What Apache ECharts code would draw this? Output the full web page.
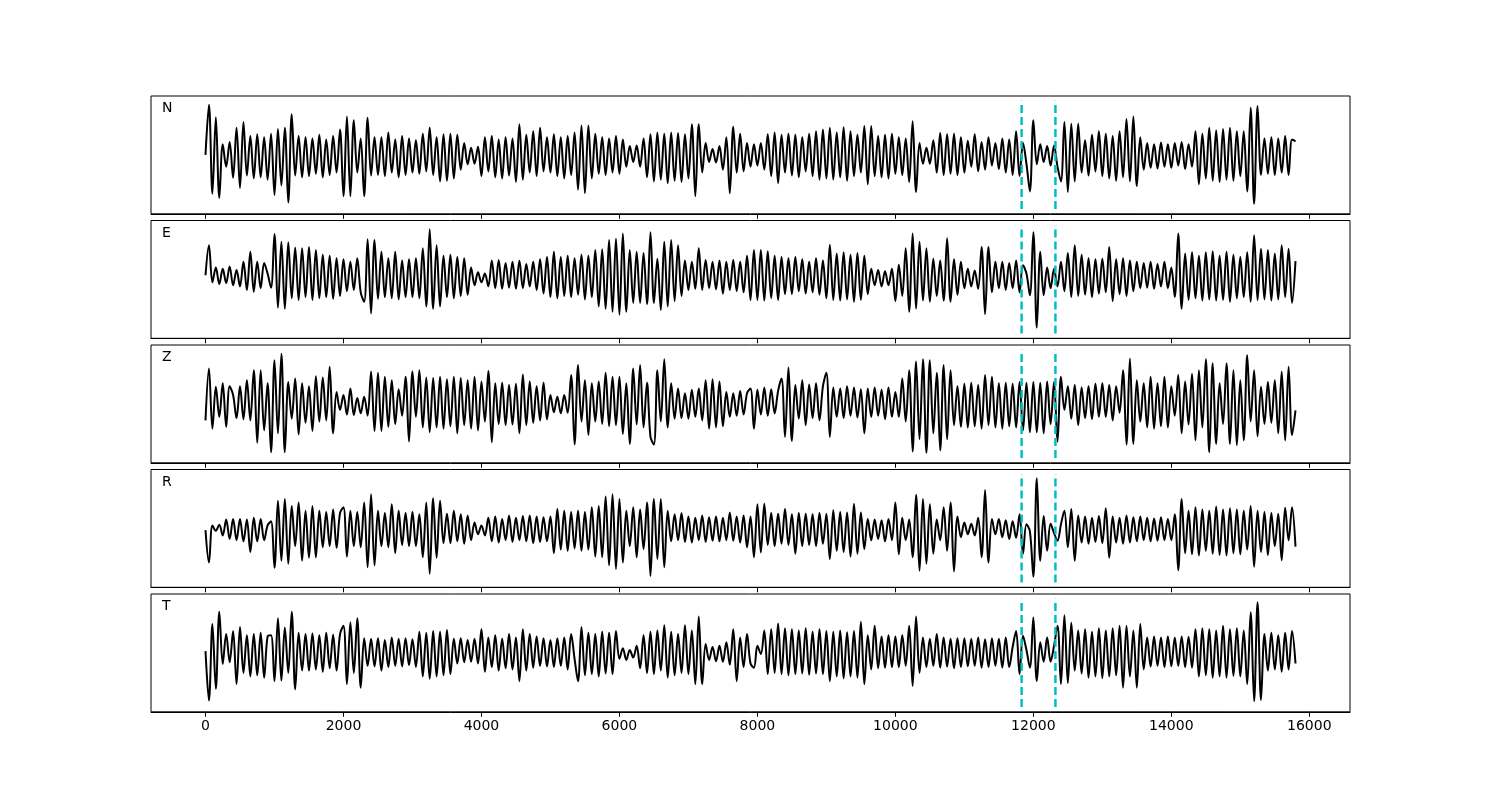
<!DOCTYPE html>
<html>
<head>
<meta charset="utf-8">
<script src="https://cdn.jsdelivr.net/npm/echarts@6/dist/echarts.min.js"></script>
<style>html,body{margin:0;padding:0;background:#fff}#chart{width:1500px;height:800px}</style>
</head>
<body>
<div id="chart"></div>
<script>
// channel names (top to bottom)
const channels = ['N', 'E', 'Z', 'R', 'T'];
// sample spacing of the values below (samples)
const sampleStep = 50;
// x axis tick labels
const xTicks = [0, 2000, 4000, 6000, 8000, 10000, 12000, 14000, 16000];
// dashed marker positions (samples)
const markerX = [11830, 12320];
const markerHalfSpan = 9.2;

// waveform values, one every 50 samples
const valuesN = [
0, 8.5, -6.6, 6.4, -7.3, 1.8, -2.0, 2.2, -3.9, 4.6,
-5.6, 5.6, -3.5, 3.2, -4.0, 3.5, -3.8, 3.0, -4.2, 3.6,
-6.8, 4.4, -5.2, 4.6, -8.1, 6.9, -3.5, 3.2, -3.8, 3.0,
-3.6, 2.8, -3.2, 3.4, -3.8, 2.6, -3.4, 3.2, -3.0, 4.3,
-7.0, 6.5, -7.0, 5.9, -3.0, 2.8, -7.0, 6.3, -3.5, 3.0,
-3.4, 3.0, -3.6, 3.8, -3.0, 2.6, -3.8, 3.2, -3.4, 2.8,
-3.0, 2.5, -3.2, 3.6, -2.8, 4.6, -3.4, 3.0, -4.5, 3.5,
-4.4, 3.6, -4.0, 3.4, -2.5, 2.0, -1.6, 1.2, -1.5, 1.4,
-3.6, 3.0, -2.8, 3.2, -3.8, 2.6, -4.0, 3.0, -3.5, 2.8,
-4.6, 5.2, -4.2, 3.4, -3.0, 4.0, -3.6, 4.6, -2.8, 3.0,
-3.0, 3.5, -3.6, 3.0, -4.0, 3.2, -3.4, 3.8, -5.9, 5.0,
-6.5, 5.0, -4.0, 3.6, -3.2, 3.0, -3.4, 2.8, -3.0, 3.2,
-3.2, 2.6, -2.0, 1.5, -1.2, 1.6, -2.0, 2.8, -3.8, 3.5,
-4.5, 3.8, -4.2, 3.6, -4.8, 3.8, -4.4, 3.7, -4.6, 3.5,
-4.0, 5.2, -7.0, 5.2, -3.0, 2.0, -1.2, 1.0, -1.3, 1.5,
-2.5, 3.0, -6.5, 4.8, -3.0, 3.6, -2.8, 2.0, -2.0, 1.8,
-1.8, 2.0, -2.5, 3.5, -3.6, 3.8, -4.8, 3.4, -3.0, 3.6,
-3.5, 3.4, -3.8, 3.0, -2.8, 3.6, -3.6, 4.0, -4.2, 4.3,
-4.0, 4.6, -4.2, 3.8, -3.8, 4.7, -4.4, 4.0, -3.6, 3.4,
-3.0, 4.9, -5.0, 4.9, -3.6, 3.2, -3.8, 3.4, -4.0, 3.6,
-3.2, 3.0, -3.4, 2.8, -4.6, 5.7, -6.3, 2.0, -1.5, 1.2,
-1.5, 2.5, -3.0, 3.7, -3.4, 3.5, -3.2, 3.6, -3.4, 3.0,
-3.0, 2.4, -2.0, 3.5, -2.8, 2.2, -2.5, 3.0, -1.8, 2.0,
-2.4, 2.8, -3.0, 2.6, -3.4, 4.0, -3.6, 2.0, -1.5, -6.2,
5.9, -1.6, 1.8, -1.2, 1.5, -1.8, 1.6, -2.0, -4.5, 5.6,
-6.3, 5.3, -4.5, 5.3, -3.0, 2.5, -3.5, 3.4, -2.8, 4.0,
-3.6, 3.6, -4.0, 3.2, -4.4, 4.0, -3.8, 6.1, -4.5, 6.5,
-5.3, 3.0, -2.5, 2.0, -2.2, 1.8, -2.3, 2.1, -2.0, 1.8,
-2.2, 2.0, -1.8, 2.2, -2.4, 1.8, -2.0, 4.0, -5.0, 3.6,
-4.0, 4.6, -4.4, 4.2, -4.6, 4.4, -4.2, 4.6, -4.4, 4.0,
-3.6, 4.0, -6.2, 8.0, -8.3, 8.3, -3.4, 2.8, -3.2, 3.0,
-3.4, 2.8, -3.0, 3.2, -3.4, 2.6, 2.3
];

const valuesE = [
0.7, 5.8, -0.5, 2.0, -0.8, 1.8, -0.6, 2.2, -1.0, 1.6,
-1.2, 3.0, -1.8, 4.7, -2.1, 3.0, -1.5, 2.8, 1.0, -1.4,
7.7, -4.8, 6.4, -5.0, 6.3, -3.2, 5.4, -3.5, 5.3, -3.0,
5.5, -3.5, 5.0, -3.2, 4.2, -3.0, 4.0, -3.3, 3.6, -2.8,
3.4, -2.0, 3.0, -1.8, 3.6, -2.2, -3.8, 6.8, -5.8, 6.7,
-3.3, 4.7, -3.0, 3.6, -3.2, 4.7, -3.4, 3.2, -3.0, 3.4,
-3.0, 3.6, -3.2, 5.3, -4.6, 8.5, -5.0, 5.8, -4.6, 4.0,
-3.0, 4.2, -3.2, 3.8, -2.8, 3.6, -2.6, 2.0, -1.0, 1.2,
-0.5, 1.0, -1.2, 3.2, -1.5, 3.3, -1.6, 2.8, -1.4, 3.0,
-1.6, 3.2, -1.5, 2.6, -1.2, 3.0, -1.8, 3.4, -2.4, 3.8,
-3.0, 4.7, -3.2, 3.8, -2.8, 4.0, -3.0, 3.6, -2.6, 4.2,
-3.4, 4.0, -3.0, 5.0, -4.6, 5.1, -5.0, 6.7, -5.5, 6.9,
-6.0, 7.8, -5.5, 5.0, -4.0, 4.7, -4.0, 4.5, -4.2, 8.0,
-4.0, 3.5, -5.2, 6.4, -4.6, 6.7, -3.7, 5.8, -2.8, 3.2,
-1.8, 3.0, -1.6, 5.3, -1.8, 3.3, -1.5, 3.0, -1.7, 3.2,
-2.4, 3.0, -1.8, 3.3, -2.0, 3.0, -2.2, 4.0, -3.5, 5.0,
-3.5, 5.0, -3.6, 4.8, -3.2, 4.0, -3.5, 3.8, -2.5, 3.6,
-2.5, 3.8, -2.0, 3.4, -2.4, 3.0, -2.2, 3.6, -2.6, 3.2,
-3.2, 5.9, -3.5, 4.4, -3.6, 4.6, -3.4, 4.2, -3.8, 4.5,
-3.5, 4.0, -2.5, 1.8, -1.0, 1.6, -1.2, 1.4, -1.0, 1.8,
-3.7, 2.5, -2.8, 5.3, -5.5, 7.8, -5.0, 6.4, -3.6, 5.3,
-3.8, 3.5, -2.8, 3.2, -3.6, 7.0, -3.8, 3.4, -2.6, 3.0,
-1.5, 1.8, -1.2, 1.5, -1.6, 5.5, -5.9, 5.5, -2.2, 3.0,
-1.5, 3.0, -1.8, 2.8, -1.5, 3.2, -2.2, 2.4, 1.0, -2.7,
8.0, -8.2, 4.7, -2.7, 2.0, -1.5, 1.8, -1.2, 3.0, -2.0,
4.5, -3.0, 5.8, -2.8, 4.2, -2.6, 3.6, -3.0, 3.4, -2.4,
3.5, -2.2, 5.5, -3.7, 3.4, -2.5, 3.6, -2.8, 3.2, -2.0,
3.0, -1.5, 2.8, -1.4, 3.0, -1.6, 2.6, -1.2, 3.0, -1.5,
2.0, -3.0, 7.8, -5.0, 4.4, -3.5, 4.6, -3.2, 4.0, -3.6,
4.6, -3.4, 4.8, -3.6, 4.0, -3.5, 4.7, -3.8, 4.2, -3.2,
3.8, -3.0, 4.6, -3.8, 7.5, -3.5, 5.2, -3.4, 5.0, -3.6,
4.4, -3.4, 5.8, -3.0, 5.2, -4.0, 3.1
];

const valuesZ = [
-2.8, 6.0, -4.2, 2.9, -2.2, 3.5, -3.9, 3.0, 1.5, -2.4,
3.0, -2.6, 4.0, -2.8, 5.7, -6.6, 5.7, -4.5, 3.5, -8.2,
7.4, -5.0, 8.5, -8.2, 3.7, -2.5, 4.3, -5.2, 3.5, -3.2,
3.0, -4.6, 4.7, -3.0, 4.5, -2.8, 6.3, -5.0, 2.0, -1.0,
1.5, -1.8, 2.6, -1.9, 1.0, -1.6, 1.2, -2.0, 5.5, -4.6,
5.3, -4.6, 4.6, -3.9, 4.0, -3.4, 2.5, -2.0, 4.6, -6.4,
5.5, -2.2, 5.7, -4.0, 4.5, -4.8, 4.4, -4.0, 4.6, -4.2,
4.2, -3.8, 4.6, -5.0, 4.4, -3.6, 4.0, -4.2, 4.6, -4.5,
3.8, -3.0, 5.6, -6.5, 3.5, -3.4, 3.6, -3.6, 3.2, -3.5,
3.4, -5.0, 5.0, -3.6, 3.8, -3.2, 3.0, -2.8, 3.6, -2.6,
1.5, -1.4, 1.2, -1.6, 1.5, -1.5, 4.9, -6.9, 6.6, -3.0,
4.0, -5.3, 3.5, -3.0, 3.8, -3.4, 5.3, -3.8, 4.6, -3.6,
4.6, -5.1, 3.5, -6.8, 6.0, -3.5, 6.6, -4.0, 3.6, -5.6,
-6.9, 5.7, -3.0, 7.6, -4.0, 3.5, -2.5, 2.6, -2.4, 1.8,
-2.5, 2.4, -2.2, 2.6, -2.8, 4.0, -4.2, 4.2, -4.0, 3.8,
-3.8, 2.0, -2.2, 1.8, -2.0, 2.2, -1.8, 1.8, 2.6, -4.2,
2.4, -1.8, 2.8, -2.0, 2.5, -1.6, 2.2, 4.3, -5.6, 6.2,
-6.3, 3.2, -2.5, 4.0, -3.6, 3.3, -2.4, 3.5, -2.8, 3.0,
5.3, -5.6, 2.8, -2.2, 2.6, -2.4, 3.0, -2.0, 2.8, -2.3,
2.5, -5.0, 2.6, -2.2, 2.8, -2.0, 2.4, -2.6, 2.8, -2.2,
2.0, -2.2, 4.3, -3.0, 5.7, -8.1, 7.2, -6.0, 7.6, -8.3,
7.4, -5.0, 5.3, -7.9, 6.6, -6.0, 5.7, -3.6, 3.0, -3.9,
3.4, -4.0, 3.6, -3.8, 3.2, -4.2, 4.9, -3.6, 4.6, -4.0,
3.5, -4.2, 3.6, -3.8, 3.4, -4.0, 3.7, -4.5, 3.6, -4.8,
3.7, -4.8, 3.6, -5.0, 3.8, -3.4, 3.7, -6.4, 4.6, -1.0,
3.0, -2.5, 3.2, -3.6, 2.8, -2.4, 3.0, -2.6, 3.4, -2.2,
3.5, -2.2, 3.2, -2.8, 3.0, -1.5, 5.7, -6.9, 7.7, -6.8,
4.0, -3.0, 3.5, -4.0, 4.6, -4.2, 3.5, -3.8, 4.6, -4.0,
3.0, -2.0, 4.9, -5.0, 3.8, -3.5, 5.1, -6.2, 5.7, -4.0,
7.6, -8.2, 6.9, -6.8, 3.5, -3.4, 6.9, -6.8, 5.7, -7.0,
4.0, -6.2, 8.3, -3.0, 5.7, -5.5, 2.9, -3.4, 3.7, -3.2,
4.0, -5.0, 5.5, -6.2, 6.3, -5.3, -1.1
];

const valuesR = [
-0.3, -5.8, 0.5, -0.4, 0.6, -1.2, 1.5, -1.8, 1.6, -2.0,
1.6, -2.2, 1.5, -4.0, 1.8, -2.2, 1.6, -2.0, 0.5, 1.2,
-6.7, 4.7, -5.5, 5.0, -6.0, 3.8, -3.0, 4.4, -5.5, 3.0,
-5.0, 3.8, -4.9, 3.0, -3.2, 2.8, -3.0, 3.2, -3.3, 2.6,
3.6, -4.8, 3.0, -3.0, 2.8, -3.2, 4.4, -6.6, 5.8, -6.3,
3.0, -3.0, 2.6, -3.2, 4.1, -4.2, 3.0, -2.8, 2.6, -3.0,
2.8, -3.0, 2.4, -4.9, 4.4, -7.7, 5.1, -5.0, 4.7, -2.5,
2.5, -2.5, 3.0, -2.2, 2.4, -2.6, 2.2, -2.0, 1.0, -1.0,
0.5, -1.2, 1.8, -2.2, 2.0, -2.4, 1.6, -2.0, 2.2, -2.3,
1.8, -2.0, 2.1, -2.2, 2.2, -2.5, 2.0, -2.3, 1.9, -2.2,
2.0, -4.2, 3.3, -3.6, 3.0, -3.8, 2.8, -3.4, 3.0, -3.8,
2.8, -3.6, 3.6, -4.8, 3.8, -4.9, 5.4, -6.3, 5.8, -6.9,
5.0, -5.8, 3.0, -3.0, 3.6, -4.9, 3.2, -3.5, 4.4, -8.1,
5.0, -5.2, 5.0, -6.6, 3.0, -2.2, 2.4, -2.0, 2.6, -2.3,
2.0, -2.4, 1.8, -2.0, 2.2, -2.3, 1.9, -2.1, 2.0, -2.2,
1.8, -2.0, 2.7, -2.1, 2.0, -2.4, 2.2, -3.2, 2.0, -4.9,
4.1, -4.1, 4.2, -2.8, 2.6, -3.0, 2.5, -2.6, 3.3, -2.8,
2.4, -4.3, 2.6, -3.0, 2.5, -2.8, 2.4, -3.0, 2.6, -2.6,
2.5, -5.2, 3.1, -3.8, 2.8, -4.0, 2.7, -4.8, 4.2, -4.3,
2.7, -3.5, 1.6, -2.0, 1.5, -1.8, 1.4, -2.2, 1.6, -2.0,
4.4, -4.4, 1.8, -2.0, 1.5, -4.9, 5.7, -7.2, 5.0, -6.0,
4.1, -4.3, 1.5, -2.0, 3.6, -3.8, 4.4, -7.3, 2.0, -1.5,
1.0, -1.0, 0.8, -1.2, 1.8, -4.9, 6.5, -5.8, 1.6, -1.0,
1.6, -1.5, 1.4, -1.8, 1.2, -1.6, 2.4, -4.3, 0.7, -0.5,
-8.2, 8.5, -5.5, 2.1, -3.8, 0.8, -0.8, -2.1, 0.7, 3.0,
-3.2, 3.3, -5.5, 2.2, -2.4, 2.0, -2.6, 1.8, -2.3, 2.1,
-2.5, 3.4, -5.0, 2.0, -2.4, 1.8, -2.6, 2.2, -2.4, 1.9,
-2.2, 2.0, -2.0, 1.8, -2.2, 1.7, -2.1, 1.9, -2.0, 1.6,
-2.0, 2.4, -7.1, 5.0, -4.2, 3.0, -4.4, 3.6, -4.6, 3.2,
-3.8, 3.0, -4.3, 3.7, -4.5, 3.2, -4.6, 3.4, -4.2, 3.2,
-4.4, 3.0, -3.6, 3.8, -6.5, 3.0, -4.0, 2.8, -4.5, 2.6,
-3.0, 2.5, -5.4, 3.5, -2.0, 3.6, -3.1
];

const valuesT = [
0.3, -8.1, 4.9, -6.1, 7.0, -1.9, 3.2, -1.6, 3.7, -5.3,
4.4, -3.4, 3.0, -4.0, 3.2, -3.8, 3.4, -4.2, 2.8, 3.0,
-4.8, 5.9, -4.7, 4.3, -3.4, 7.0, -6.2, 3.4, -3.0, 3.2,
-3.0, 3.3, -2.8, 3.0, -3.2, 3.4, -2.6, 3.1, -3.0, 3.2,
4.6, -5.3, 5.2, -3.4, 5.9, -5.9, 2.5, -2.2, 2.4, -2.3,
2.5, -3.0, 2.2, -2.4, 2.6, -2.2, 2.4, -2.3, 2.5, -2.1,
2.3, -2.4, 3.6, -4.0, 3.4, -4.4, 3.7, -4.0, 3.6, -3.8,
3.9, -3.6, 2.4, -1.8, 2.5, -1.6, 2.2, -1.5, 2.4, -1.8,
4.0, -3.2, 2.6, -2.4, 3.0, -3.0, 2.4, -2.6, 3.2, -2.8,
2.6, -4.8, 4.0, -3.0, 3.2, -2.5, 2.8, -2.2, 2.5, -2.3,
2.2, -2.4, 2.5, -2.2, 2.6, -2.8, 3.2, -1.0, -4.8, 4.4,
-3.8, 3.4, -3.6, 3.2, -4.0, 3.6, -3.5, 3.4, -3.6, 3.7,
-1.0, 0.8, -1.2, 0.5, -0.8, 1.2, -2.6, 3.0, -3.4, 3.6,
-3.6, 3.8, -3.0, 4.7, -4.2, 3.6, -3.8, 3.2, -3.4, 4.7,
-3.6, 3.8, -5.3, 6.2, -5.3, 1.5, -1.2, 1.0, -1.4, 1.2,
-1.5, 1.8, -2.0, 4.0, -4.8, 2.6, -2.4, 3.2, -1.8, -2.5,
1.2, -0.2, 3.8, -3.6, 4.0, -3.4, 5.0, -3.6, 4.2, -3.8,
4.0, -3.6, 3.8, -3.5, 4.2, -3.7, 3.6, -3.5, 4.0, -3.6,
3.7, -4.8, 3.6, -4.0, 3.8, -4.3, 3.5, -4.0, 3.7, -4.2,
5.3, -5.3, 3.0, -2.8, 4.6, -2.6, 2.8, -2.5, 3.0, -2.4,
2.8, -2.4, 3.0, -2.2, 4.6, -5.6, 6.2, -3.4, 2.6, -2.4,
2.4, -2.2, 3.2, -2.5, 2.6, -2.3, 2.4, -2.6, 2.5, -2.4,
2.5, -2.3, 2.4, -2.2, 2.6, -2.5, 2.3, -2.4, 2.5, -2.2,
2.4, -2.5, 2.6, -2.4, 1.0, 3.7, -3.6, 2.9, 0.5, -2.5,
6.0, -4.8, 1.8, -1.5, 2.6, -1.5, 1.2, 4.6, -5.3, 6.4,
-5.1, 5.1, -3.0, 3.8, -3.5, 4.0, -4.2, 3.6, -4.0, 4.2,
-4.3, 3.8, -4.0, 4.2, -3.8, 4.6, -5.9, 4.6, -4.0, 3.8,
-5.9, 4.9, -2.8, 2.6, -2.3, 2.8, -2.2, 2.6, -2.4, 2.8,
-2.3, 2.6, -2.2, 2.8, -2.4, 2.7, -2.5, 4.0, -4.0, 4.2,
-3.8, 4.0, -4.2, 3.8, -4.0, 4.6, -4.2, 4.0, -3.9, 4.2,
-4.0, 3.8, -5.3, 6.9, -8.2, 8.6, -8.0, 3.2, -3.0, 3.4,
-2.8, 3.0, -3.2, 3.4, -2.8, 3.7, -1.8
];

const allValues = [valuesN, valuesE, valuesZ, valuesR, valuesT];

const chart = echarts.init(document.getElementById('chart'), null, { renderer: 'canvas' });

const grids = [], xAxes = [], yAxes = [], series = [], graphics = [];
channels.forEach((name, i) => {
  const top = 96 + i * 124.5;
  grids.push({
    left: 151, right: 150, top: top, height: 117.8,
    show: true, borderColor: '#000', borderWidth: 1, backgroundColor: 'transparent'
  });
  xAxes.push({
    type: 'value', gridIndex: i, min: -790, max: 16590,
    axisLine: { show: true, onZero: false, lineStyle: { color: '#000', width: 1 } },
    axisTick: { show: true, inside: false, length: 5, customValues: xTicks, lineStyle: { color: '#000', width: 1 } },
    axisLabel: {
      show: i === channels.length - 1, customValues: xTicks, color: '#000',
      fontSize: 14, fontFamily: 'DejaVu Sans', margin: 8,
      formatter: v => String(v)
    },
    splitLine: { show: false }
  });
  yAxes.push({
    type: 'value', gridIndex: i, min: -10, max: 10,
    axisLine: { show: false, onZero: false }, axisTick: { show: false },
    axisLabel: { show: false }, splitLine: { show: false }
  });
  series.push({
    type: 'line', xAxisIndex: i, yAxisIndex: i,
    data: allValues[i].map((v, k) => [k * sampleStep, v]),
    symbol: 'none', showSymbol: false, smooth: 0.35,
    lineStyle: { color: '#000', width: 2 }, z: 2
  });
  markerX.forEach(mx => {
    series.push({
      type: 'line', xAxisIndex: i, yAxisIndex: i,
      data: [[mx, -markerHalfSpan], [mx, markerHalfSpan]],
      symbol: 'none', showSymbol: false,
      lineStyle: { color: '#00bfbf', width: 2.5, type: [8, 4] }, z: 3
    });
  });
  graphics.push({
    type: 'text', left: 162, top: top + 5.5,
    style: { text: name, font: '14px "DejaVu Sans"', fill: '#000' }
  });
});

chart.setOption({
  animation: false,
  backgroundColor: '#fff',
  grid: grids,
  xAxis: xAxes,
  yAxis: yAxes,
  series: series,
  graphic: graphics
});
</script>
</body>
</html>
